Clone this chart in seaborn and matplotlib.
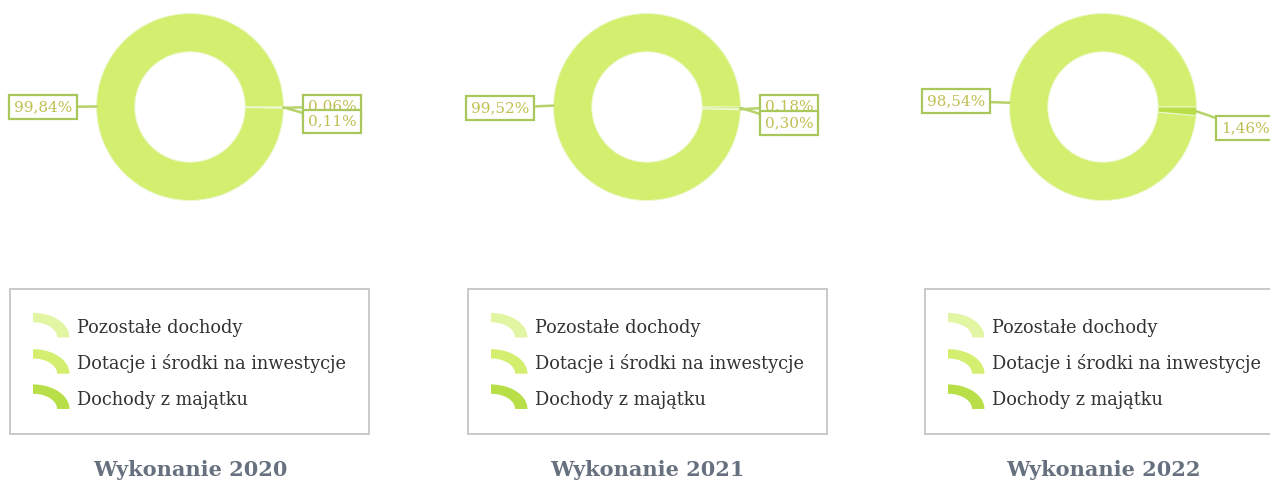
import numpy as np
import matplotlib
matplotlib.use("Agg")
import matplotlib.pyplot as plt
from matplotlib.patches import Patch, Polygon
from matplotlib.legend_handler import HandlerBase
import seaborn as sns

# ---- data -----------------------------------------------------------------
years = ["2020", "2021", "2022"]
categories = ["Pozostałe dochody", "Dotacje i środki na inwestycje", "Dochody z majątku"]
pozostale = [99.84, 99.52, 98.54]
dotacje = [0.06, 0.18, 0.00]
majatek = [0.11, 0.30, 1.46]
title_prefix = "Wykonanie"

# ---- style ----------------------------------------------------------------
sns.set_theme(style="white")
plt.rcParams["font.family"] = ["DejaVu Serif", "DejaVu Sans"]

ring_colors = ["#d4ef6f", "#e9f7b9", "#b8df48"]
swatch_colors = ["#e2f5a3", "#d4ee70", "#b8df48"]
label_text_color = "#c0bf52"
label_edge_color = "#a9c75a"
leader_color = "#b6d36a"

W, H = 1270, 483
fig = plt.figure(figsize=(W / 100, H / 100), dpi=100)

# layout in pixels
centers_x = [190, 647, 1103]
cy = 107
R = 93.5
half_w = 190
top_h = 215
# horizontal distance (ring radii) from the ring centre to the value boxes
label_dx = {-1: 1.57, 1: 1.52}
# vertical offset (px, upwards) of each value box relative to the ring centre
label_dy = [[0, 0.5, -14.5], [-1, 0.5, -16], [6, 0, -21]]
legend_left = [10, 468, 925]
legend_w, legend_top, legend_h = 359, 289, 145
title_y = 470


def fmt(v):
    return f"{v:.2f}".replace(".", ",") + "%"


class ArcHandler(HandlerBase):
    """Legend key drawn as a quarter of an elliptical ring."""

    def create_artists(self, legend, orig_handle, xdescent, ydescent,
                       width, height, fontsize, trans):
        kw, kh = 2.05 * fontsize, 1.38 * fontsize
        x0 = -xdescent
        yc = -ydescent + height / 2 + 0.1 * fontsize
        y0 = yc - kh / 2
        t = np.linspace(np.pi / 2, 0, 30)
        outer = np.column_stack([x0 + kw * np.cos(t), y0 + kh * np.sin(t)])
        inner = np.column_stack([x0 + 0.66 * kw * np.cos(t[::-1]),
                                 y0 + 0.62 * kh * np.sin(t[::-1])])
        poly = Polygon(np.vstack([outer, inner]), closed=True,
                       facecolor=orig_handle.get_facecolor(), edgecolor="none",
                       transform=trans)
        return [poly]


for i, yr in enumerate(years):
    vals = [pozostale[i], dotacje[i], majatek[i]]
    cx = centers_x[i]
    ax = fig.add_axes([(cx - half_w) / W, (H - top_h) / H, 2 * half_w / W, top_h / H])
    wedges, _ = ax.pie(vals, colors=ring_colors, radius=1.0, startangle=0,
                       counterclock=True,
                       wedgeprops=dict(width=0.41, edgecolor="#edf8cf", linewidth=0.7))
    ax.set_xlim(-half_w / R, half_w / R)
    ax.set_ylim(-(top_h - cy) / R, cy / R)
    ax.set_aspect("auto")
    ax.axis("off")

    for j, (w, v) in enumerate(zip(wedges, vals)):
        if v <= 0:
            continue
        th = np.deg2rad((w.theta1 + w.theta2) / 2)
        side = 1 if np.cos(th) >= 0 else -1
        xy = (np.cos(th), np.sin(th))
        xt = (side * label_dx[side], label_dy[i][j] / R)
        ax.annotate(fmt(v), xy=xy, xytext=xt, ha="center", va="center",
                    fontsize=11, color=label_text_color,
                    bbox=dict(boxstyle="square,pad=0.3", fc="white",
                              ec=label_edge_color, lw=1.6),
                    arrowprops=dict(arrowstyle="-", color=leader_color, lw=1.8,
                                    shrinkA=0, shrinkB=0),
                    annotation_clip=False, zorder=5 + j)

    # legend box
    lax = fig.add_axes([legend_left[i] / W, (H - legend_top - legend_h) / H,
                        legend_w / W, legend_h / H])
    lax.set_xticks([])
    lax.set_yticks([])
    for s in lax.spines.values():
        s.set_color("#c9c9c9")
        s.set_linewidth(1.4)
    handles = [Patch(facecolor=c) for c in swatch_colors]
    lax.legend(handles, categories, handler_map={Patch: ArcHandler()},
               loc="upper left", bbox_to_anchor=(23 / legend_w, 1 - 30 / legend_h),
               frameon=False, fontsize=12.8, handlelength=2.05, handleheight=1.0,
               handletextpad=0.45, labelspacing=0.97, borderpad=0, borderaxespad=0,
               labelcolor="#333333")

    fig.text(cx / W, 1 - title_y / H, f"{title_prefix} {yr}", ha="center", va="center",
             fontsize=15, fontweight="bold", color="#66707e")

fig.savefig("out.png", dpi=100)
